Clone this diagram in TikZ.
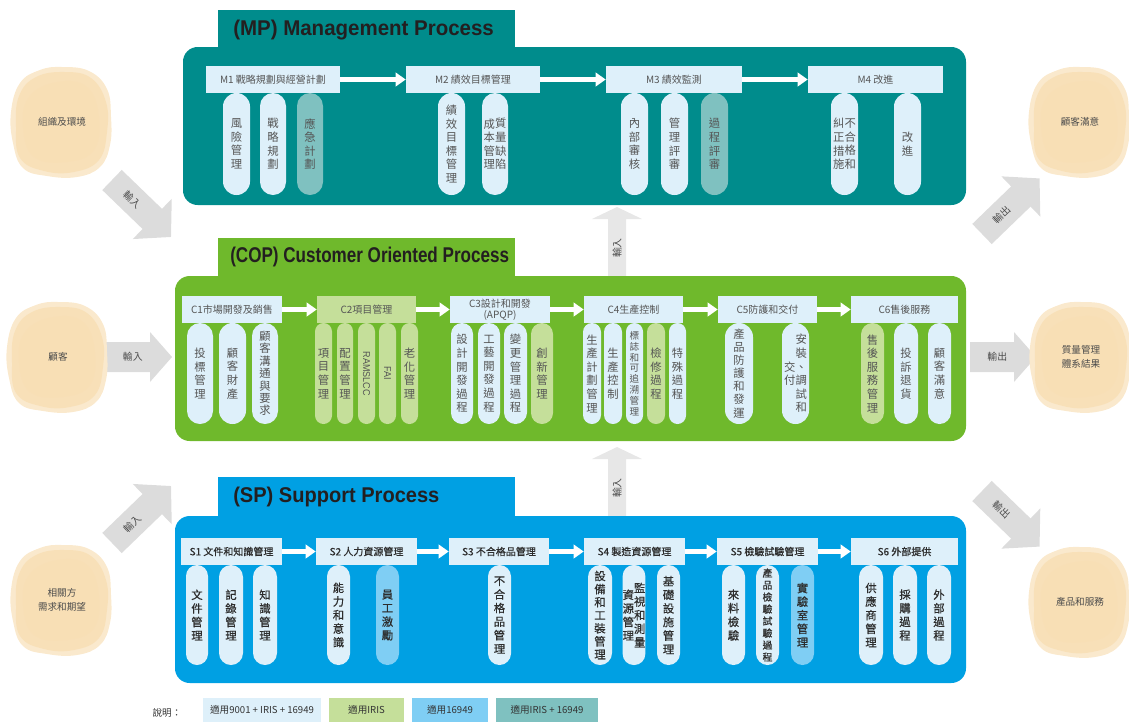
\documentclass[tikz,border=0pt]{standalone}
\usepackage{fontspec}
\usepackage{graphicx}
\setmainfont{Noto Sans CJK TC}
\newfontfamily\cjkmed{Noto Sans CJK TC}[FakeBold=0.5]
\newfontfamily\ttlfont{Liberation Sans}
\usetikzlibrary{arrows.meta}

\definecolor{mpc}{RGB}{0,140,140}
\definecolor{copc}{RGB}{111,185,44}
\definecolor{spc}{RGB}{0,160,227}
\definecolor{lt}{RGB}{222,240,250}
\definecolor{iris}{RGB}{197,223,154}
\definecolor{tsc}{RGB}{127,206,244}
\definecolor{irts}{RGB}{127,193,192}
\definecolor{arrg}{RGB}{220,220,220}
\definecolor{arrl}{RGB}{231,231,231}
\definecolor{blobc}{RGB}{248,222,178}
\definecolor{blobl}{RGB}{250,233,205}
\definecolor{txt}{RGB}{85,85,85}
\definecolor{sptxt}{RGB}{45,45,45}
\definecolor{ttlc}{RGB}{35,31,32}

\ExplSyntaxOn
\bool_new:N \g_vtfirst_bool
\NewDocumentCommand\vtrows{m}{
  \bool_gset_true:N \g_vtfirst_bool
  \tl_map_inline:nn {#1}{
    \bool_if:NTF \g_vtfirst_bool {\bool_gset_false:N \g_vtfirst_bool}{\cr}
    ##1
  }
}
\ExplSyntaxOff
\newcommand\vt[2][10.2pt]{$\vcenter{\baselineskip=#1\relax\lineskiplimit=-\maxdimen\lineskip=0pt\halign{\hfil##\hfil\cr\vtrows{#2}\cr}}$}

\def\pyA{93}\def\pyB{195}
\newcommand\pil[5][]{%
  \pgfmathsetmacro\pilW{(#4-#3)*0.75}%
  \pgfmathsetmacro\pilH{(\pyB-\pyA)*0.75}%
  \pgfmathsetmacro\pilR{(#4-#3)*0.375}%
  \node[pillbox, minimum width=\pilW pt, minimum height=\pilH pt, rounded corners=\pilR pt, #1] (#2) at ({(#3+#4)/2},{(\pyA+\pyB)/2}) {#5};}
\newcommand\hdr[7][]{%
  \pgfmathsetmacro\pilW{(#4-#3)*0.75}%
  \pgfmathsetmacro\pilH{(#6-#5)*0.75}%
  \node[hdrbox, minimum width=\pilW pt, minimum height=\pilH pt, #1] (#2) at ({(#3+#4)/2},{(#5+#6)/2}) {#7};}
\def\arrcol{arrg}
\newcommand\barr[9][]{%
  \begin{scope}[shift={(#2,#3)}, rotate=#4]
    \fill[\arrcol] (0,{-#6/2}) -- ({#5-#8},{-#6/2}) -- ({#5-#8},{-#7/2}) -- (#5,0) -- ({#5-#8},{#7/2}) -- ({#5-#8},{#6/2}) -- (0,{#6/2}) -- cycle;
    \node[arrlabel, rotate=#4, #1] at ({(#5-#8)/2},0) {#9};
  \end{scope}}
\newcommand\blob[4]{%
  \begin{scope}[shift={(#2,#3)}]
    \fill[blobl] plot[smooth cycle, tension=0.7] coordinates {(0,-55) (27,-51) (45,-33) (49,-5) (48,23) (38,45) (15,55) (-15,54) (-39,46) (-49,21) (-51,-10) (-42,-39) (-22,-52)};
    \fill[blobc, opacity=0.75] plot[smooth cycle, tension=0.7] coordinates {(3,-50) (29,-44) (44,-20) (45,10) (37,38) (12,50) (-18,49) (-42,36) (-46,5) (-43,-26) (-26,-45)};
    \fill[blobc, opacity=0.4] plot[smooth cycle, tension=0.7] coordinates {(-5,-40) (25,-35) (37,-5) (32,28) (5,40) (-28,35) (-39,5) (-33,-25)};
  \end{scope}
  \node[blobtext] (#1) at (#2,#3) {#4};}

\begin{document}
\begin{tikzpicture}[x=0.75pt,y=-0.75pt,
  pillbox/.style={inner sep=0pt, fill=lt, text=txt, font=\fontsize{8.5}{10}\selectfont},
  sppill/.style={text=sptxt, font=\cjkmed\fontsize{8.5}{10}\selectfont},
  hdrbox/.style={inner sep=0pt, fill=lt, text=txt, align=center, font=\fontsize{7.5}{8.5}\selectfont},
  sphdr/.style={text=sptxt, font=\cjkmed\fontsize{7.5}{8.5}\selectfont},
  panelbox/.style={inner sep=0pt, rounded corners=11pt},
  tabbox/.style={inner sep=0pt},
  ttl/.style={anchor=west, inner sep=0pt, text=ttlc, font=\ttlfont\bfseries\fontsize{16}{18}\selectfont},
  harr/.style={draw=white, line width=3.2pt, -{Triangle[length=7.5pt,width=10pt]}},
  arrlabel/.style={inner sep=0pt, text=black!70, font=\fontsize{7.4}{8}\selectfont},
  blobtext/.style={inner sep=0pt, text=black!70, align=center, font=\fontsize{7.2}{10.5}\selectfont},
  legbox/.style={inner sep=0pt, text=black!80, font=\fontsize{7.2}{8}\selectfont},
]
\useasboundingbox (0,0) rectangle (1129,722);

% ---- big gray arrows
\barr[name=ia1]{112}{180}{-44}{82}{28}{56}{26}{輸入}
\barr[name=ia2, xshift=4pt]{105}{357}{0}{67}{30}{50}{22}{輸入}
\barr[name=ia3]{112}{543}{44}{82}{28}{56}{26}{輸入}
\barr[name=oa1]{982}{234}{44}{80}{28}{56}{26}{輸出}
\barr[name=oa2, xshift=4pt]{970}{357}{0}{66}{30}{50}{22}{輸出}
\barr[name=oa3]{982}{491}{-44}{80}{28}{56}{26}{輸出}
\def\arrcol{arrl}
\barr[name=ua1]{617}{277}{90}{70}{18}{50}{12}{輸入}
\barr[name=ua2]{617}{517}{90}{70}{18}{50}{12}{輸入}

% ---- panels
\node[panelbox, fill=mpc, minimum width=587.25pt, minimum height=118.5pt] (MP) at (574.5,126) {};
\node[panelbox, fill=copc, minimum width=593.25pt, minimum height=123.75pt] (COP) at (570.5,358.5) {};
\node[panelbox, fill=spc, minimum width=593.25pt, minimum height=125.25pt] (SP) at (570.5,599.5) {};
\node[tabbox, fill=mpc, minimum width=222.75pt, minimum height=28.5pt] (MPtab) at (366.5,29) {};
\node[tabbox, fill=copc, minimum width=222.75pt, minimum height=29.25pt] (COPtab) at (366.5,257.5) {};
\node[tabbox, fill=spc, minimum width=222.75pt, minimum height=30pt] (SPtab) at (366.5,497) {};
\node[ttl] (MPt) at (233,30) {\scalebox{0.96}[1]{(MP) Management Process}};
\node[ttl] (COPt) at (230,257) {\scalebox{0.80}[1]{(COP) Customer Oriented Process}};
\node[ttl] (SPt) at (233,497) {\scalebox{0.94}[1]{(SP) Support Process}};

% ---- MP
\hdr{M1}{206}{340}{66}{93}{M1 戰略規劃與經營計劃}
\hdr{M2}{406}{540}{66}{93}{M2 績效目標管理}
\hdr{M3}{606}{742}{66}{93}{M3 績效監測}
\hdr{M4}{808}{943}{66}{93}{M4 改進}
\draw[harr] (M1) -- (M2);
\draw[harr] (M2) -- (M3);
\draw[harr] (M3) -- (M4);
\def\pyA{93}\def\pyB{195}
\pil{p11}{223}{250}{\vt{風險管理}}
\pil{p12}{260}{286}{\vt{戰略規劃}}
\pil[fill=irts]{p13}{297}{323}{\vt{應急計劃}}
\pil{p21}{438}{465}{\vt{績效目標管理}}
\pil{p22}{482}{508}{\vt{成本管理}\vt{質量缺陷}}
\pil{p31}{621}{648}{\vt{內部審核}}
\pil{p32}{661}{688}{\vt{管理評審}}
\pil[fill=irts]{p33}{701}{728}{\vt{過程評審}}
\pil{p41}{831}{858}{\vt{糾正措施}\vt{不合格和}}
\pil{p42}{894}{921}{\vt{改進}}

% ---- COP
\hdr{C1}{182}{282}{296}{323}{C1市場開發及銷售}
\hdr[fill=iris]{C2}{317}{416}{296}{323}{C2項目管理}
\hdr{C3}{450}{550}{296}{323}{C3設計和開發\\(APQP)}
\hdr{C4}{584}{683}{296}{323}{C4生產控制}
\hdr{C5}{718}{817}{296}{323}{C5防護和交付}
\hdr{C6}{851}{958}{296}{323}{C6售後服務}
\draw[harr] (C1) -- (C2);
\draw[harr] (C2) -- (C3);
\draw[harr] (C3) -- (C4);
\draw[harr] (C4) -- (C5);
\draw[harr] (C5) -- (C6);
\def\pyA{323}\def\pyB{424}
\pil{c11}{187}{213}{\vt{投標管理}}
\pil{c12}{219}{246}{\vt{顧客財產}}
\pil{c13}{252}{278}{\vt[9.3pt]{顧客溝通與要求}}
\pil[fill=iris]{c21}{315}{332}{\vt{項目管理}}
\pil[fill=iris]{c22}{337}{353}{\vt{配置管理}}
\pil[fill=iris]{c23}{358}{375}{\rotatebox{-90}{\scalebox{0.9}[1]{\ttlfont\fontsize{7.5}{8}\selectfont RAMSLCC}}}
\pil[fill=iris]{c24}{379}{396}{\rotatebox{-90}{\scalebox{0.9}[1]{\ttlfont\fontsize{7.5}{8}\selectfont FAI}}}
\pil[fill=iris]{c25}{401}{418}{\vt{老化管理}}
\pil{c31}{451}{473}{\vt{設計開發過程}}
\pil{c32}{478}{500}{\vt{工藝開發過程}}
\pil{c33}{504}{527}{\vt{變更管理過程}}
\pil[fill=iris]{c34}{531}{553}{\vt{創新管理}}
\pil{c41}{583}{601}{\vt{生產計劃管理}}
\pil{c42}{604}{622}{\vt{生產控制}}
\pil[font=\fontsize{7.2}{8}\selectfont]{c43}{626}{643}{\vt[8.1pt]{標誌和可追溯管理}}
\pil[fill=iris]{c44}{647}{665}{\vt{檢修過程}}
\pil{c45}{669}{686}{\vt{特殊過程}}
\pil{c51}{725}{753}{\vt[9.8pt]{產品防護和發運}}
\pil{c52}{782}{809}{\vt{交付}\vt{安裝、調試和}}
\pil[fill=iris]{c61}{861}{884}{\vt{售後服務管理}}
\pil{c62}{894}{918}{\vt{投訴退貨}}
\pil{c63}{928}{951}{\vt{顧客滿意}}

% ---- SP
\hdr[sphdr]{S1}{181}{282}{538}{565}{S1 文件和知識管理}
\hdr[sphdr]{S2}{316}{417}{538}{565}{S2 人力資源管理}
\hdr[sphdr]{S3}{449}{549}{538}{565}{S3 不合格品管理}
\hdr[sphdr]{S4}{584}{685}{538}{565}{S4 製造資源管理}
\hdr[sphdr]{S5}{717}{818}{538}{565}{S5 檢驗試驗管理}
\hdr[sphdr]{S6}{851}{958}{538}{565}{S6 外部提供}
\draw[harr] (S1) -- (S2);
\draw[harr] (S2) -- (S3);
\draw[harr] (S3) -- (S4);
\draw[harr] (S4) -- (S5);
\draw[harr] (S5) -- (S6);
\def\pyA{565}\def\pyB{665}
\pil[sppill]{s11}{186}{208}{\vt{文件管理}}
\pil[sppill]{s12}{219}{243}{\vt{記錄管理}}
\pil[sppill]{s13}{253}{277}{\vt{知識管理}}
\pil[sppill]{s21}{327}{350}{\vt{能力和意識}}
\pil[sppill, fill=tsc]{s22}{376}{399}{\vt{員工激勵}}
\pil[sppill]{s31}{488}{511}{\vt{不合格品管理}}
\pil[sppill]{s41}{588}{612}{\vt[9.8pt]{設備和工裝管理}}
\pil[sppill]{s42}{623}{645}{\vt{資源管理}\vt{監視和測量}}
\pil[sppill]{s43}{657}{680}{\vt{基礎設施管理}}
\pil[sppill]{s51}{722}{745}{\vt{來料檢驗}}
\pil[sppill, font=\cjkmed\fontsize{7.4}{8}\selectfont]{s52}{756}{779}{\vt[9pt]{產品檢驗試驗過程}}
\pil[sppill, fill=tsc]{s53}{791}{814}{\vt{實驗室管理}}
\pil[sppill]{s61}{859}{883}{\vt{供應商管理}}
\pil[sppill]{s62}{893}{917}{\vt{採購過程}}
\pil[sppill]{s63}{927}{951}{\vt{外部過程}}

% ---- blobs
\blob{bl1}{62}{122}{組織及環境}
\blob{bl2}{58}{357}{顧客}
\blob{bl3}{62}{600}{相關方\\需求和期望}
\blob{br1}{1080}{122}{顧客滿意}
\blob{br2}{1081}{357}{質量管理\\體系結果}
\blob{br3}{1080}{602}{產品和服務}

% ---- legend
\node[legbox] (lg0) at (167,713) {說明：};
\hdr[legbox, fill=lt]{lg1}{203}{321}{698}{722}{適用9001 + IRIS + 16949}
\hdr[legbox, fill=iris]{lg2}{329}{404}{698}{722}{適用IRIS}
\hdr[legbox, fill=tsc]{lg3}{412}{488}{698}{722}{適用16949}
\hdr[legbox, fill=irts]{lg4}{496}{598}{698}{722}{適用IRIS + 16949}
\end{tikzpicture}
\end{document}
